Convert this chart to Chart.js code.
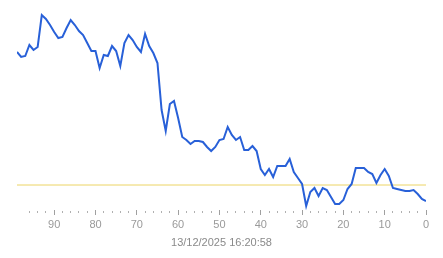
<!DOCTYPE html>
<html lang="en">
<head>
  <meta charset="UTF-8" />
  <title>Line history</title>
  <script src="https://cdn.jsdelivr.net/npm/chart.js@4.4.1/dist/chart.umd.min.js"></script>
  <style>
    html, body { margin: 0; padding: 0; background: #fff; }
    #wrap { width: 443px; height: 258px; }
  </style>
</head>
<body>
  <div id="wrap"><canvas id="myChart" width="443" height="258"></canvas></div>

  <script>
    // x: how many steps back (99 .. 0), y: value
    const steps = [];
    for (let i = 99; i >= 0; i--) steps.push(i);

    const values = [
      158, 153, 154, 165, 160, 163, 195, 191, 185, 178,   // 99..90
      172, 173, 182, 190, 185, 179, 175, 167, 159, 159,   // 89..80
      142, 155, 154, 164, 159, 144, 167, 175, 170, 163,   // 79..70
      158, 176, 164, 157, 147, 100, 79, 106, 109, 92,     // 69..60
      73, 70, 66, 69, 69, 68, 63, 59, 63, 70,             // 59..50
      71, 83, 75, 70, 73, 60, 60, 64, 59, 41,             // 49..40
      35, 41, 33, 44, 44, 44, 51, 38, 32, 26,             // 39..30
      4, 18, 22, 14, 22, 20, 13, 6, 6, 10,                // 29..20
      21, 26, 42, 42, 42, 38, 36, 27, 35, 41,             // 19..10
      34, 22, 21, 20, 19, 19, 20, 16, 11, 9               // 9..0
    ];

    const baseline = 25;
    const dateLabel = '13/12/2025 16:20:58';

    const ctx = document.getElementById('myChart').getContext('2d');

    const myChart = new Chart(ctx, {
      type: 'line',
      data: {
        datasets: [{
          data: steps.map((s, i) => ({ x: s, y: values[i] })),
          borderColor: 'rgb(40, 96, 216)',
          borderWidth: 2,
          pointRadius: 0,
          tension: 0
        }, {
          data: [{ x: steps[0], y: baseline }, { x: steps[steps.length - 1], y: baseline }],
          borderColor: 'rgb(236, 212, 100)',
          borderWidth: 1,
          pointRadius: 0
        }]
      },
      options: {
        responsive: false,
        animation: false,
        layout: { padding: { left: 17, right: 17, top: 10, bottom: 0 } },
        plugins: { legend: { display: false }, tooltip: { enabled: false } },
        scales: {
          x: {
            type: 'linear',
            reverse: true,
            min: 0,
            max: 99,
            border: { display: false },
            grid: {
              drawOnChartArea: false,
              drawTicks: true,
              tickLength: 5,
              tickWidth: 1,
              tickColor: c => (c.tick && c.tick.value % 10 === 0) ? '#a0a0a0' : '#b0b0b0',
              tickBorderDash: c => (c.tick && c.tick.value % 10 === 0) ? [] : [2, 10],
              tickBorderDashOffset: c => (c.tick && c.tick.value % 10 === 0) ? 0 : 11
            },
            afterBuildTicks: scale => {
              scale.ticks = scale.ticks.filter(t => t.value % 2 === 0);
            },
            afterFit: scale => {
              scale.height = 48; // chart area ends at y=210
            },
            ticks: {
              stepSize: 2,
              autoSkip: false,
              maxRotation: 0,
              padding: 3,
              color: '#9a9a9a',
              font: { family: 'Liberation Sans', size: 11 },
              callback: v => (v % 10 === 0 ? v : '')
            },
            title: {
              display: true,
              text: dateLabel,
              color: '#8a8a8a',
              padding: { top: 0, bottom: 8 },
              font: { family: 'Liberation Sans', size: 11 }
            }
          },
          y: {
            display: false,
            min: 0,
            max: 200
          }
        }
      }
    });
  </script>
</body>
</html>
